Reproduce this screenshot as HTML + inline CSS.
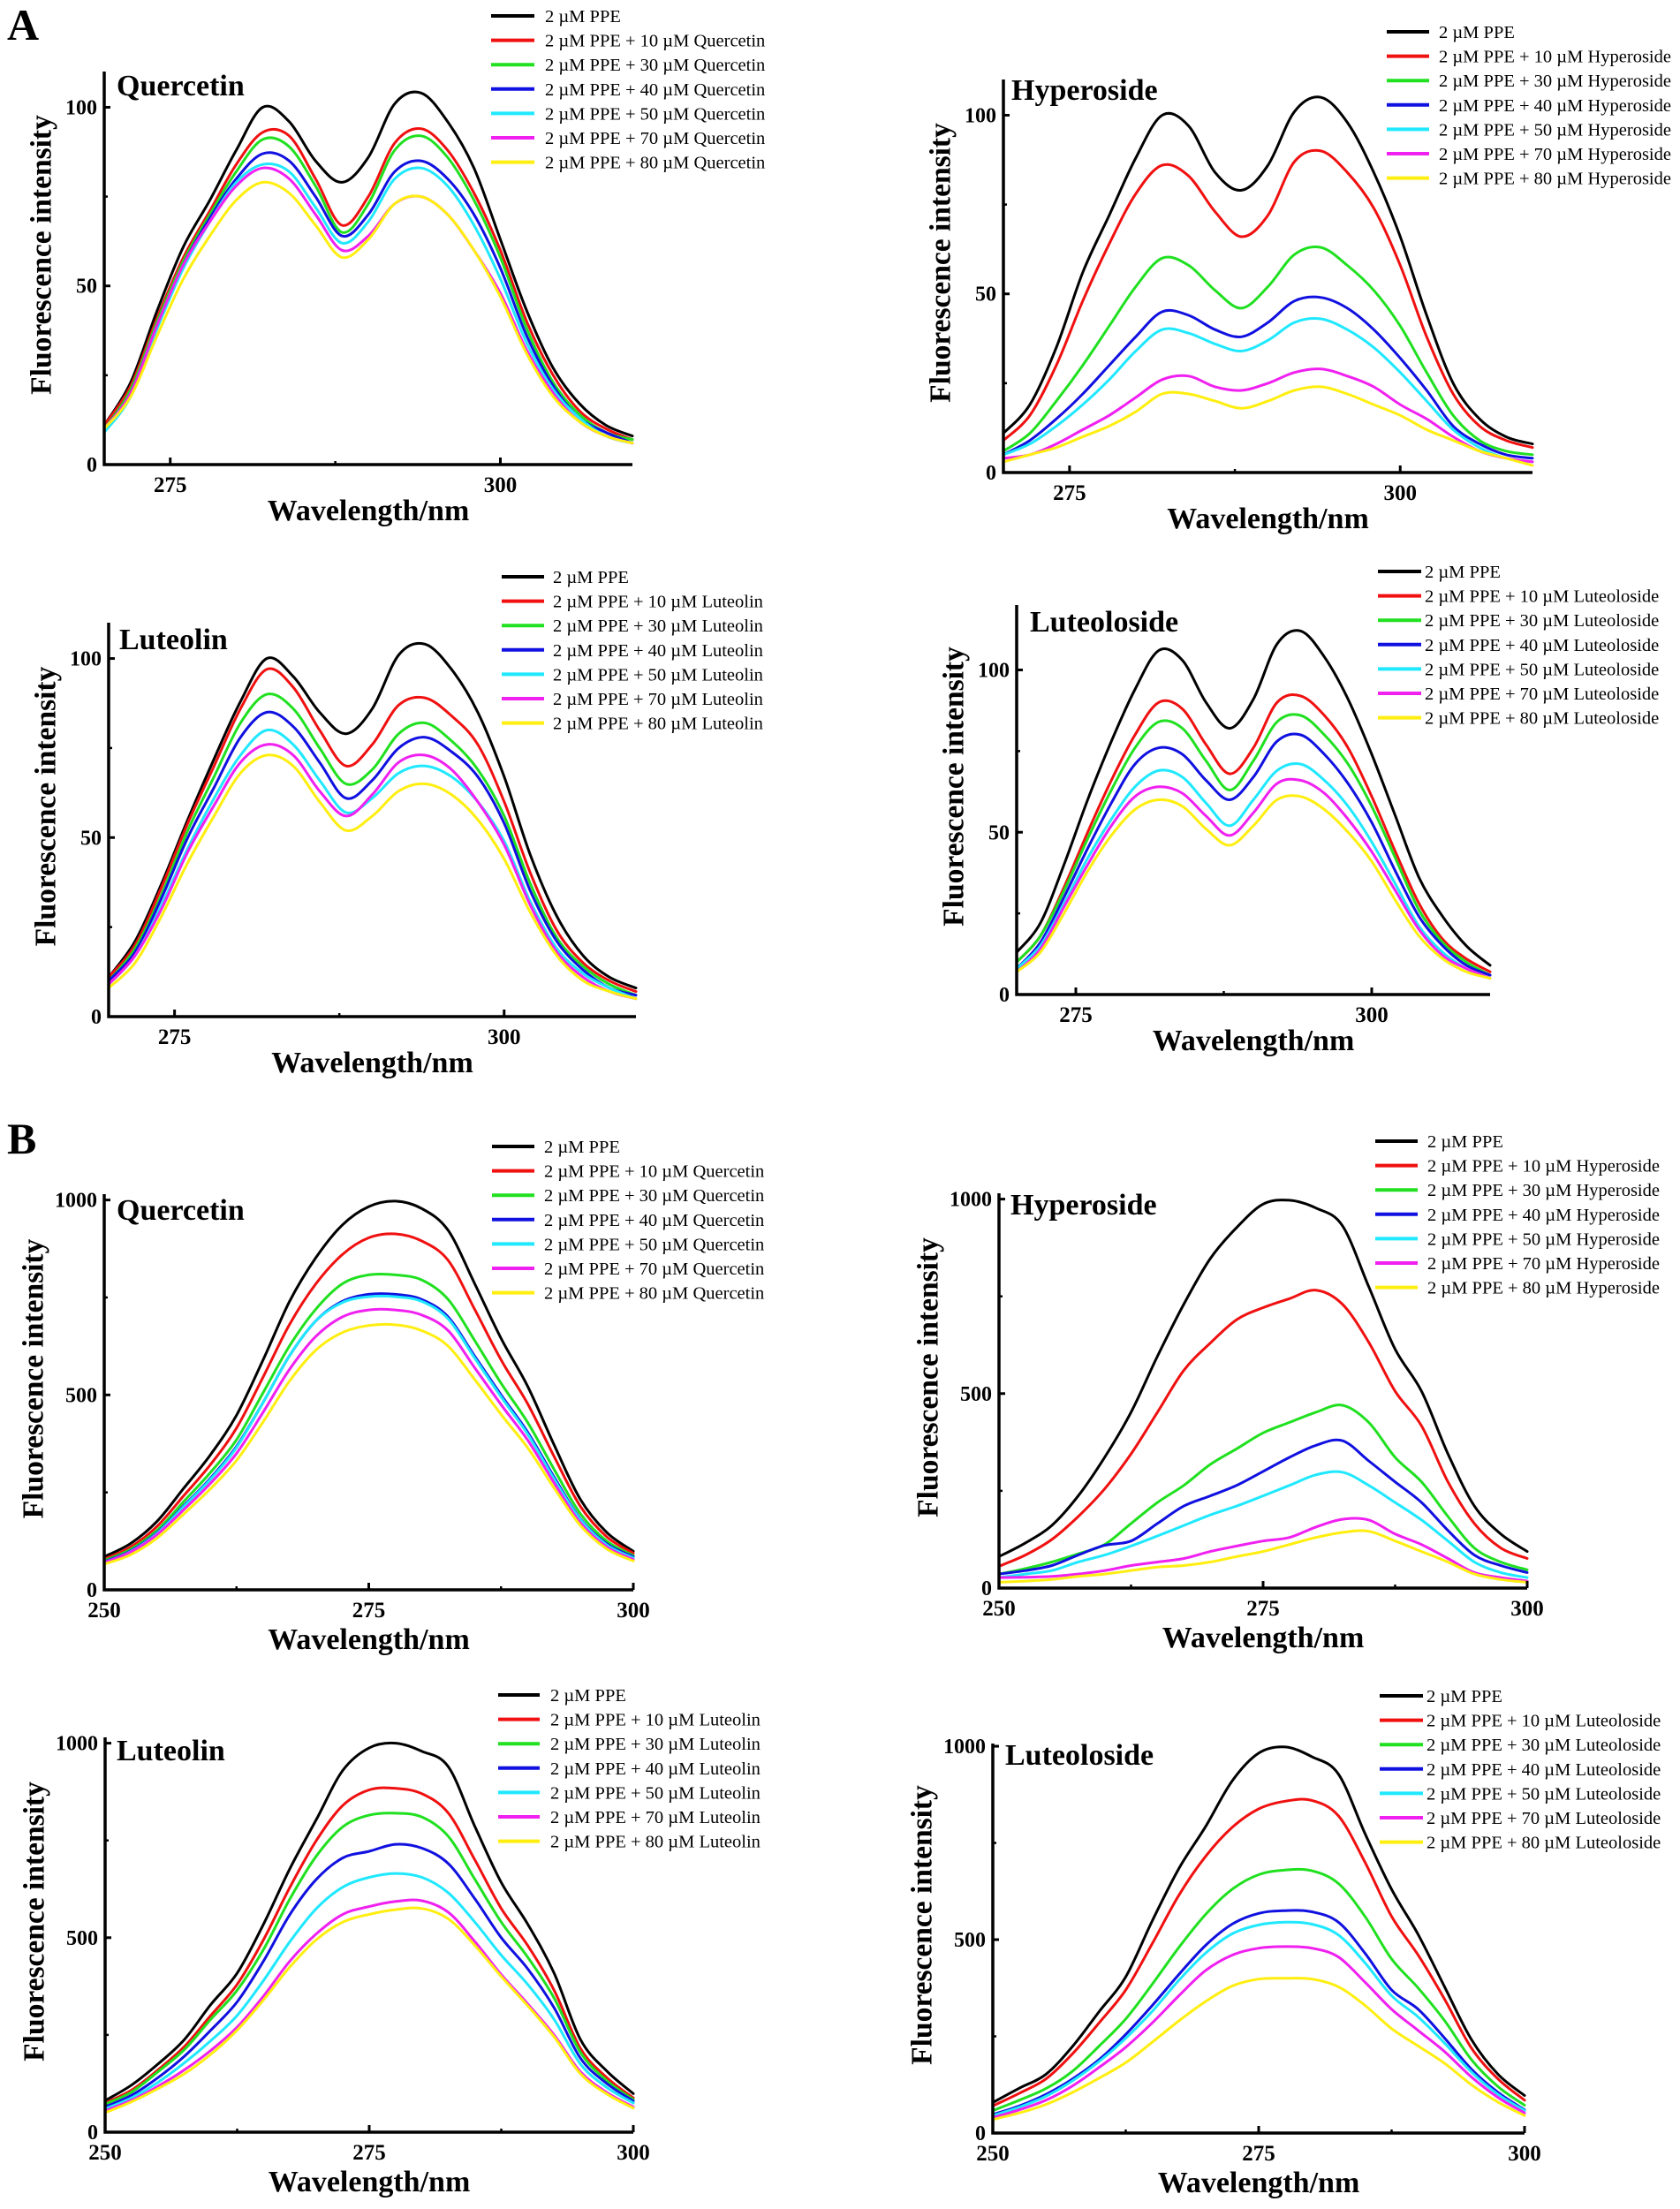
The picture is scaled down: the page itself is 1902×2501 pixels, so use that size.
<!DOCTYPE html>
<html>
<head>
<meta charset="utf-8">
<style>
html,body{margin:0;padding:0;background:#fff;}
svg{display:block;}
text{font-family:"Liberation Serif","DejaVu Serif",serif;}
</style>
</head>
<body>
<svg id="fig" width="1902" height="2501" viewBox="0 0 1902 2501" xmlns="http://www.w3.org/2000/svg">
<rect width="1902" height="2501" fill="#fff"/>
<text x="8" y="45" font-size="50" font-weight="bold">A</text>
<text x="8" y="1306" font-size="50" font-weight="bold">B</text>
</svg>
<script>
// ---- shared data ----
const seriesColors = ["#000000","#f01010","#20e020","#1010e0","#20e8ff","#f020f0","#ffee10"];
const concentrations = [0,10,30,40,50,70,80];
const xA = [270,272,274,276,278,280,282,284,286,288,290,292,294,296,298,300,302,304,306,308,310];
const xB = [250,252.5,255,257.5,260,262.5,265,267.5,270,272.5,275,277.5,280,282.5,285,287.5,290,292.5,295,297.5,300];
const xTicksA = [275,300];
const xMinorA = [287.5];
const yTicksA = [0,50,100];
const yMinorA = [25,75];
const xTicksB = [250,275,300];
const xMinorB = [262.5,287.5];
const yTicksB = [0,500,1000];
const yMinorB = [250,750];

// ---- A: Quercetin ----
const aQuercetin0 = [11,23,43,61,74,88,100,96,85,79,86,101,104,96,83,63,43,27,17,11,8];
const aQuercetin1 = [11,22,41,58,71,84,93,92,80,67,75,90,94,88,76,60,40,25,15,10,7];
const aQuercetin2 = [10,21,40,57,70,82,91,89,78,65,73,88,92,86,74,58,38,23,14,9,7];
const aQuercetin3 = [10,20,39,56,69,80,87,85,75,64,70,82,85,80,70,55,36,22,13,9,6];
const aQuercetin4 = [9,19,38,55,68,79,84,82,72,62,68,80,83,78,67,52,34,21,13,8,6];
const aQuercetin5 = [10,20,39,56,68,78,83,80,70,60,64,73,75,70,60,48,32,20,12,8,6];
const aQuercetin6 = [10,19,36,52,64,74,79,76,67,58,63,73,75,70,60,47,31,19,12,8,6];
// ---- A: Hyperoside ----
const aHyperoside0 = [11,19,35,56,72,88,100,97,84,79,86,101,105,98,84,66,44,25,15,10,8];
const aHyperoside1 = [9,16,30,48,64,78,86,83,73,66,72,87,90,84,74,58,38,22,13,9,7];
const aHyperoside2 = [6,11,20,30,41,52,60,58,51,46,52,61,63,58,51,41,28,16,9,6,5];
const aHyperoside3 = [5,9,15,22,30,38,45,44,40,38,42,48,49,46,40,32,23,13,8,5,4];
const aHyperoside4 = [5,8,13,19,26,34,40,39,36,34,37,42,43,40,35,28,20,12,7,4,3];
const aHyperoside5 = [4,5,8,12,16,21,26,27,24,23,25,28,29,27,24,19,15,10,6,4,3];
const aHyperoside6 = [3,5,7,10,13,17,22,22,20,18,20,23,24,22,19,16,12,9,6,4,2];
// ---- A: Luteolin ----
const aLuteolin0 = [11,21,37,55,72,88,100,95,85,79,86,101,104,97,85,67,45,28,17,11,8];
const aLuteolin1 = [11,20,36,54,70,86,97,92,80,70,76,87,89,84,76,60,40,24,15,10,7];
const aLuteolin2 = [10,19,34,52,67,82,90,86,75,65,69,79,82,77,69,56,37,22,14,9,6];
const aLuteolin3 = [10,18,33,50,64,78,85,81,71,61,66,75,78,74,67,54,35,21,13,8,6];
const aLuteolin4 = [9,17,31,47,61,73,80,76,66,57,61,68,70,67,60,49,32,19,12,8,5];
const aLuteolin5 = [9,17,30,46,59,71,76,73,63,56,62,71,73,69,60,48,31,18,11,7,5];
const aLuteolin6 = [8,15,28,43,56,68,73,70,60,52,56,63,65,62,55,44,29,17,10,7,5];
// ---- A: Luteoloside ----
const aLuteoloside0 = [13,22,40,60,78,94,106,103,90,82,91,108,112,104,91,74,55,36,24,15,9];
const aLuteoloside1 = [10,18,33,50,66,80,90,88,77,68,76,90,92,86,76,61,44,28,17,11,7];
const aLuteoloside2 = [10,18,32,48,63,76,84,82,72,63,72,84,86,80,71,58,42,26,16,10,6];
const aLuteoloside3 = [8,16,30,45,59,71,76,74,66,60,67,78,80,74,65,53,38,24,15,9,6];
const aLuteoloside4 = [8,15,28,42,54,64,69,67,59,52,60,69,71,66,58,47,34,21,13,8,5];
const aLuteoloside5 = [7,14,27,40,52,61,64,62,55,49,56,65,66,62,54,44,32,20,12,8,5];
const aLuteoloside6 = [7,13,25,38,49,57,60,58,51,46,52,60,61,57,50,41,29,18,11,7,5];
// ---- B: Quercetin ----
const bQuercetin0 = [85,119,176,260,345,448,589,739,852,936,983,997,978,922,786,645,523,373,232,147,99];
const bQuercetin1 = [79,110,163,241,320,415,545,680,785,860,903,913,895,845,720,590,478,343,214,136,94];
const bQuercetin2 = [75,104,153,226,300,385,505,625,720,785,808,808,795,745,640,530,430,310,195,125,88];
const bQuercetin3 = [72,100,147,215,285,368,480,600,690,740,758,758,745,700,600,500,405,290,182,118,85];
const bQuercetin4 = [70,98,145,213,282,365,480,600,690,737,752,752,740,695,595,495,400,285,180,115,82];
const bQuercetin5 = [70,97,142,205,272,350,455,565,650,700,718,718,705,665,570,475,385,275,172,110,78];
const bQuercetin6 = [66,90,133,194,258,332,430,535,615,660,678,680,665,625,540,450,365,262,165,105,74];
// ---- B: Hyperoside ----
const bHyperoside0 = [81,116,161,237,336,452,596,730,847,927,987,997,977,932,775,614,506,345,211,139,94];
const bHyperoside1 = [56,85,125,184,255,345,452,560,630,690,721,744,766,730,632,506,417,273,166,103,76];
const bHyperoside2 = [36,50,67,88,112,166,220,264,318,358,399,426,452,470,426,336,273,184,103,67,47];
const bHyperoside3 = [36,45,58,85,110,121,166,211,237,264,300,336,367,379,327,273,220,148,85,58,40];
const bHyperoside4 = [27,36,45,67,85,108,134,161,188,211,237,264,291,298,264,220,175,121,67,40,27];
const bHyperoside5 = [27,28,30,36,45,58,67,76,94,108,121,130,157,177,175,139,112,76,40,27,18];
const bHyperoside6 = [15,18,22,30,36,45,54,58,67,81,94,112,130,143,146,121,94,67,36,22,15];
// ---- B: Luteolin ----
const bLuteolin0 = [81,121,175,238,328,409,535,678,804,930,988,1000,979,939,786,642,535,409,238,157,99];
const bLuteolin1 = [75,108,160,220,300,380,495,630,750,840,880,884,870,820,700,575,480,365,215,140,88];
const bLuteolin2 = [72,103,155,212,290,365,470,600,710,785,815,820,810,760,650,540,450,345,205,132,84];
const bLuteolin3 = [65,95,140,195,262,335,440,560,650,705,722,740,730,690,600,500,420,320,190,125,80];
const bLuteolin4 = [60,88,128,178,235,300,390,490,575,630,655,665,655,615,540,455,380,290,175,115,75];
const bLuteolin5 = [55,82,118,160,210,270,350,440,510,560,580,593,595,565,490,405,330,250,155,102,65];
const bLuteolin6 = [50,78,112,150,200,262,340,425,495,540,560,572,575,548,480,400,325,245,150,98,62];
// ---- B: Luteoloside ----
const bLuteoloside0 = [79,116,152,224,314,404,549,684,792,910,982,998,973,928,774,630,513,377,242,152,97];
const bLuteoloside1 = [70,103,140,205,285,370,490,615,715,790,838,858,860,820,700,560,460,345,220,140,85];
const bLuteoloside2 = [58,85,115,160,225,295,385,480,565,630,668,680,678,645,560,450,375,290,190,120,72];
const bLuteoloside3 = [48,70,100,140,190,255,330,410,485,540,568,575,572,545,465,370,320,245,165,105,60];
const bLuteoloside4 = [45,67,95,135,185,245,315,395,465,515,538,545,540,512,440,355,300,232,158,100,58];
const bLuteoloside5 = [40,60,85,122,170,222,285,355,420,460,478,482,478,455,390,320,265,210,145,92,52];
const bLuteoloside6 = [35,52,74,105,142,182,235,290,340,380,398,400,398,378,330,270,225,180,125,80,45];

const NS = "http://www.w3.org/2000/svg";
const fig = document.getElementById("fig");

function mk(tag, attrs, parent){
  const e = document.createElementNS(NS, tag);
  for (const k in attrs) e.setAttribute(k, attrs[k]);
  (parent||fig).appendChild(e);
  return e;
}

function smoothPath(pts){
  let d = "M" + pts[0][0].toFixed(1) + "," + pts[0][1].toFixed(1);
  for (let i=0;i<pts.length-1;i++){
    const p0 = pts[Math.max(0,i-1)], p1 = pts[i], p2 = pts[i+1], p3 = pts[Math.min(pts.length-1,i+2)];
    const c1x = p1[0] + (p2[0]-p0[0])/6, c1y = p1[1] + (p2[1]-p0[1])/6;
    const c2x = p2[0] - (p3[0]-p1[0])/6, c2y = p2[1] - (p3[1]-p1[1])/6;
    d += " C" + c1x.toFixed(1)+","+c1y.toFixed(1)+" "+c2x.toFixed(1)+","+c2y.toFixed(1)+" "+p2[0].toFixed(1)+","+p2[1].toFixed(1);
  }
  return d;
}

function panel(cfg){
  const g = mk("g", {});
  
  
  const sx = v => cfg.L + (v - cfg.xmin) / (cfg.xmax - cfg.xmin) * (cfg.R - cfg.L);
  const sy = v => cfg.B - v / cfg.ymax * (cfg.B - cfg.T);

  const sg = mk("g", {fill:"none","stroke-width":"3","stroke-linejoin":"round","stroke-linecap":"round"}, g);
  
  
  cfg.series.forEach((vals, i) => {
    const pts = cfg.xs.map((x, j) => [sx(x), sy(vals[j])]);
    const p = mk("path", {d: smoothPath(pts), stroke: seriesColors[i]}, sg);
    
    
  });

  const ax = mk("path", {d:"M"+cfg.L+","+cfg.T+" V"+cfg.B+" H"+cfg.R, fill:"none", stroke:"#000","stroke-width":"3.5"}, g);
  
  

  cfg.xt.forEach(v => {
    const t = mk("line", {x1:sx(v), x2:sx(v), y1:cfg.B, y2:cfg.B-8, stroke:"#000","stroke-width":"3"}, g);
    
    
    const l = mk("text", {x:sx(v), y:cfg.B+31, "text-anchor":"middle","font-size":"25","font-weight":"bold"}, g);
    l.textContent = v;
    
    
  });
  cfg.xm.forEach(v => {
    const t = mk("line", {x1:sx(v), x2:sx(v), y1:cfg.B, y2:cfg.B-4, stroke:"#000","stroke-width":"2.5"}, g);
    
    
  });
  cfg.yt.forEach(v => {
    const t = mk("line", {x1:cfg.L, x2:cfg.L+7, y1:sy(v), y2:sy(v), stroke:"#000","stroke-width":"3"}, g);
    
    
    const l = mk("text", {x:cfg.L-8, y:sy(v)+8, "text-anchor":"end","font-size":"24","font-weight":"bold"}, g);
    l.textContent = v;
    
    
  });
  cfg.ym.forEach(v => {
    const t = mk("line", {x1:cfg.L, x2:cfg.L+4, y1:sy(v), y2:sy(v), stroke:"#000","stroke-width":"2.5"}, g);
    
    
  });

  const xtl = mk("text", {x:(cfg.L+cfg.R)/2, y:cfg.B+cfg.xtOff, "text-anchor":"middle","font-size":"34","font-weight":"bold"}, g);
  xtl.textContent = "Wavelength/nm";
  
  
  const cx = cfg.L + cfg.ytOff, cy = (cfg.T+cfg.B)/2 - 15;
  const ytl = mk("text", {x:cx, y:cy, "text-anchor":"middle","dominant-baseline":"central","font-size":"33.5","font-weight":"bold", transform:"rotate(-90 "+cx+" "+cy+")"}, g);
  ytl.textContent = "Fluorescence intensity";
  
  

  const ct = mk("text", {x:cfg.tx, y:cfg.ty, "font-size":"34","font-weight":"bold"}, g);
  ct.textContent = cfg.name;
  
  

  const lg = mk("g", {}, g);
  
  
  concentrations.forEach((c, i) => {
    const y = cfg.ly + i * 27.6;
    const ln = mk("line", {x1:cfg.lx1, x2:cfg.lx2, y1:y, y2:y, stroke:seriesColors[i], "stroke-width":"4"}, lg);
    
    
    const tx = mk("text", {x:cfg.tx2, y:y+7, "font-size":"20.5"}, lg);
    tx.textContent = i === 0 ? "2 \u00b5M PPE" : "2 \u00b5M PPE + " + c + " \u00b5M " + cfg.name;
    
    
  });
}

const common = {xs:xA, xmin:270, xmax:310, ymax:110, xt:xTicksA, xm:xMinorA, yt:yTicksA, ym:yMinorA, xtOff:63, ytOff:-71};
const commonB = {xs:xB, xmin:250, xmax:300, ymax:1015, xt:xTicksB, xm:xMinorB, yt:yTicksB, ym:yMinorB, xtOff:67, ytOff:-80};

panel(Object.assign({}, common, {id:"a-quercetin", name:"Quercetin", L:118, R:716, B:526, T:81, tx:132, ty:108, lx1:556, lx2:605, tx2:617, ly:18,
  series:[aQuercetin0,aQuercetin1,aQuercetin2,aQuercetin3,aQuercetin4,aQuercetin5,aQuercetin6]}));
panel(Object.assign({}, common, {id:"a-hyperoside", name:"Hyperoside", L:1136, R:1735, B:535, T:90, tx:1145, ty:113, lx1:1570, lx2:1618, tx2:1629, ly:36,
  series:[aHyperoside0,aHyperoside1,aHyperoside2,aHyperoside3,aHyperoside4,aHyperoside5,aHyperoside6]}));
panel(Object.assign({}, common, {id:"a-luteolin", name:"Luteolin", L:123, R:720, B:1151, T:705, tx:135, ty:735, lx1:568, lx2:616, tx2:626, ly:653,
  series:[aLuteolin0,aLuteolin1,aLuteolin2,aLuteolin3,aLuteolin4,aLuteolin5,aLuteolin6]}));
panel(Object.assign({}, common, {id:"a-luteoloside", name:"Luteoloside", L:1151, R:1687, B:1126, T:685, ymax:120, tx:1166, ty:715, lx1:1560, lx2:1609, tx2:1613, ly:647,
  series:[aLuteoloside0,aLuteoloside1,aLuteoloside2,aLuteoloside3,aLuteoloside4,aLuteoloside5,aLuteoloside6]}));
panel(Object.assign({}, commonB, {id:"b-quercetin", name:"Quercetin", L:118, R:717, B:1800, T:1352, tx:132, ty:1381, lx1:557, lx2:605, tx2:616, ly:1298,
  series:[bQuercetin0,bQuercetin1,bQuercetin2,bQuercetin3,bQuercetin4,bQuercetin5,bQuercetin6]}));
panel(Object.assign({}, commonB, {id:"b-hyperoside", name:"Hyperoside", L:1131, R:1729, B:1798, T:1351, tx:1144, ty:1375, lx1:1557, lx2:1605, tx2:1616, ly:1292,
  series:[bHyperoside0,bHyperoside1,bHyperoside2,bHyperoside3,bHyperoside4,bHyperoside5,bHyperoside6]}));
panel(Object.assign({}, commonB, {id:"b-luteolin", name:"Luteolin", L:119, R:717, B:2414, T:1967, tx:132, ty:1993, lx1:564, lx2:611, tx2:623, ly:1919,
  series:[bLuteolin0,bLuteolin1,bLuteolin2,bLuteolin3,bLuteolin4,bLuteolin5,bLuteolin6]}));
panel(Object.assign({}, commonB, {id:"b-luteoloside", name:"Luteoloside", L:1124, R:1726, B:2415, T:1974, ymax:1007, tx:1138, ty:1998, lx1:1562, lx2:1611, tx2:1615, ly:1920,
  series:[bLuteoloside0,bLuteoloside1,bLuteoloside2,bLuteoloside3,bLuteoloside4,bLuteoloside5,bLuteoloside6]}));
</script>
</body>
</html>
